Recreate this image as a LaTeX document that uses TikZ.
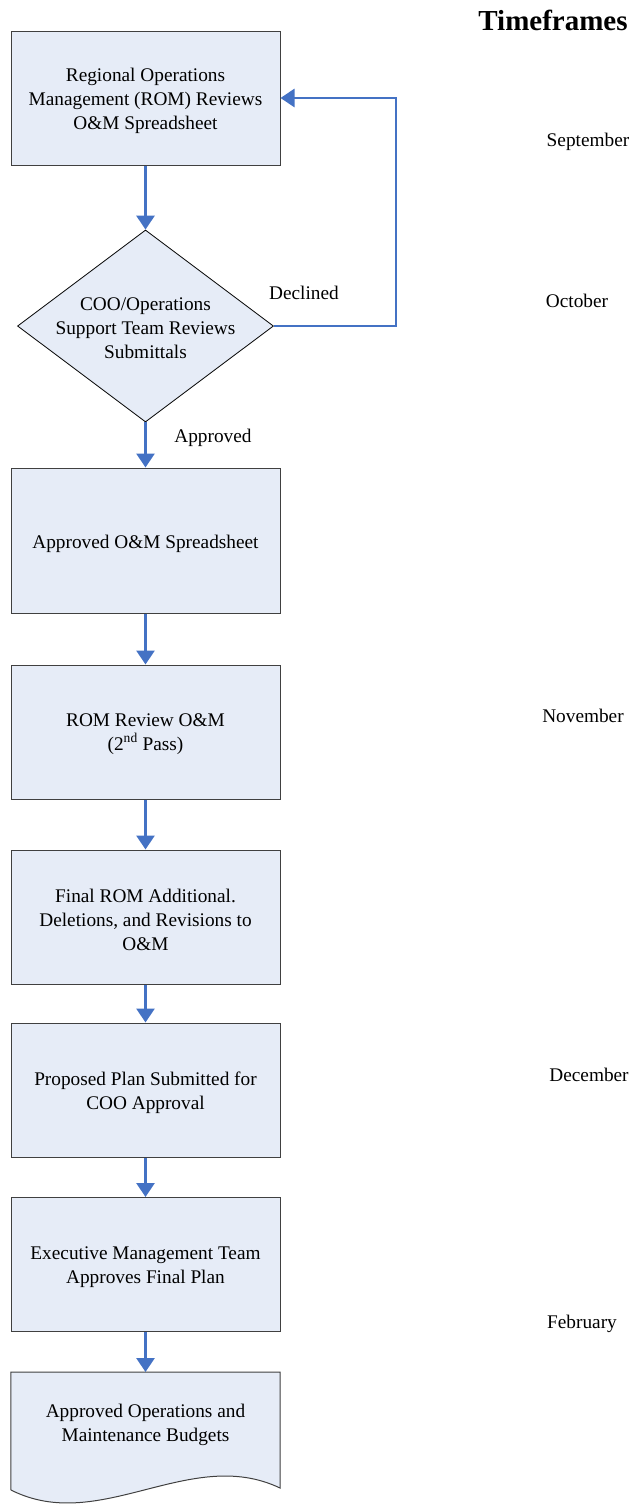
\documentclass[tikz,border=0pt]{standalone}
\usepackage{fontspec}
\setmainfont{Liberation Serif}
\usetikzlibrary{arrows.meta,shapes.geometric}
\definecolor{flowblue}{RGB}{68,114,196}
\definecolor{boxfill}{RGB}{230,236,247}
\definecolor{boxline}{RGB}{64,64,64}
\tikzset{
  txt/.style={font=\fontsize{19.3}{24}\selectfont, align=center, inner sep=0pt},
  stepbox/.style={draw=boxline, line width=1pt, fill=boxfill, minimum width=269pt,
    minimum height=134pt, inner sep=0pt},
  decision/.style={diamond, draw=black, line width=0.8pt, fill=boxfill,
    minimum width=256pt, minimum height=192pt, inner sep=0pt},
  flow/.style={draw=flowblue, line width=2.8pt,
    -{Triangle[width=18pt,length=14pt]}},
  month/.style={txt, anchor=center},
}
\begin{document}
\begin{tikzpicture}[x=1pt,y=-1pt]
\useasboundingbox (0,0) rectangle (631,1505);

% title and timeframe labels
\node[font=\fontsize{29}{32}\selectfont\bfseries, inner sep=0pt] (title) at (553,20) {Timeframes};
\node[month] (sep) at (588,142) {September};
\node[month] (oct) at (577,301) {October};
\node[month] (nov) at (583,716) {November};
\node[month] (dec2) at (589,1075) {December};
\node[month] (feb) at (582,1324) {February};

% process steps
\node[stepbox] (b1) at (145.5,98) {};
\node[decision] (dec) at (145.5,326) {};
\node[stepbox, minimum height=145pt] (b2) at (145.5,540.5) {};
\node[stepbox] (b3) at (145.5,732) {};
\node[stepbox] (b4) at (145.5,917) {};
\node[stepbox] (b5) at (145.5,1090) {};
\node[stepbox] (b6) at (145.5,1264.5) {};

% final document shape with wavy lower edge
\node[minimum width=269pt, minimum height=118pt, inner sep=0pt, anchor=north] (doc) at (145.5,1372) {};
\draw[draw=boxline, line width=1pt, fill=boxfill]
  (doc.north west) -- (doc.north east) -- (280,1488)
  .. controls (190,1445) and (100,1535) .. (11,1490) -- cycle;

% step texts
\node[txt] (b1t) at ([yshift=-2.5pt]b1.center) {Regional Operations\\Management (ROM) Reviews\\O\&M Spreadsheet};
\node[txt] (dect) at ([yshift=-2pt]dec.center) {COO/Operations\\Support Team Reviews\\Submittals};
\node[txt] (b2t) at ([yshift=-3pt]b2.center) {Approved O\&M Spreadsheet};
\node[txt] (b3t) at ([yshift=-2pt]b3.center) {ROM Review O\&M\\(2\textsuperscript{nd} Pass)};
\node[txt] (b4t) at ([yshift=-2.5pt]b4.center) {Final ROM Additional.\\Deletions, and Revisions to\\O\&M};
\node[txt] (b5t) at ([yshift=-2.5pt]b5.center) {Proposed Plan Submitted for\\COO Approval};
\node[txt] (b6t) at ([yshift=-2.5pt]b6.center) {Executive Management Team\\Approves Final Plan};
\node[txt] (doct) at (145.5,1425) {Approved Operations and\\Maintenance Budgets};

% connectors
\draw[flow] (b1.south) -- (dec.north);
\draw[flow] (dec.east) -- ++(122,0) |- (b1.east);
\draw[flow] (dec.south) -- (b2.north);
\draw[flow] (b2.south) -- (b3.north);
\draw[flow] (b3.south) -- (b4.north);
\draw[flow] (b4.south) -- (b5.north);
\draw[flow] (b5.south) -- (b6.north);
\draw[flow] (b6.south) -- (doc.north);

% branch labels
\node[txt] (declined) at (304,293) {Declined};
\node[txt] (approved) at (213,438) {Approved};
\end{tikzpicture}
\end{document}
